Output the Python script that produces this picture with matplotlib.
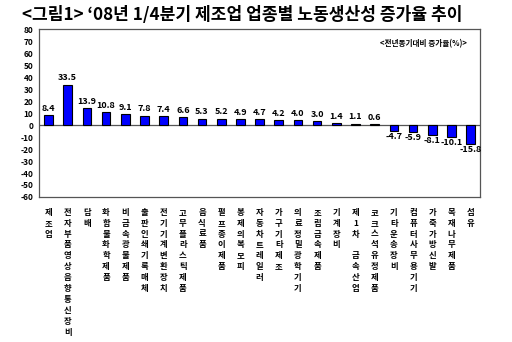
import matplotlib
matplotlib.use("Agg")
import matplotlib.pyplot as plt

plt.rcParams['font.family'] = ['Noto Sans CJK KR', 'DejaVu Sans']
plt.rcParams['axes.unicode_minus'] = False

categories = ['제조업', '전자부품영상음향통신장비', '담배', '화합물화학제품', '비금속광물제품',
              '출판인쇄기록매체', '전기기계변환장치', '고무플라스틱제품', '음식료품', '펄프종이제품',
              '봉제의복모피', '자동차트레일러', '가구기타제조', '의료정밀광학기기', '조립금속제품',
              '기계장비', '제1차 금속산업', '코크스석유정제품', '기타운송장비', '컴퓨터사무용기기',
              '가죽가방신발', '목재나무제품', '섬유']
values = [8.4, 33.5, 13.9, 10.8, 9.1, 7.8, 7.4, 6.6, 5.3, 5.2, 4.9, 4.7, 4.2, 4.0, 3.0,
          1.4, 1.1, 0.6, -4.7, -5.9, -8.1, -10.1, -15.8]
yticks = list(range(-60, 90, 10))

fig = plt.figure(figsize=(5.12, 3.42), dpi=100)
ax = fig.add_axes([0.076, 0.424, 0.862, 0.491])

x = range(len(values))
ax.bar(x, values, width=0.45, color='#0000ff', edgecolor='black', linewidth=0.8, zorder=3)
ax.axhline(0, color='#555555', linewidth=0.9, zorder=2)

for i, v in enumerate(values):
    if v >= 0:
        ax.text(i, v + 2.0, f'{v:.1f}', ha='center', va='bottom', fontsize=6.5, fontweight='bold')
    else:
        ax.text(i, v - 1.0, f'{v:.1f}', ha='center', va='top', fontsize=6.5, fontweight='bold')

for i, name in enumerate(categories):
    ax.text(i, -69, '\n'.join(name), ha='center', va='top', fontsize=6, fontweight='bold',
            linespacing=1.27, clip_on=False)

ax.set_xlim(-0.5, len(values) - 0.5)
ax.set_ylim(-60, 80)
ax.set_yticks(yticks)
ax.set_yticklabels([str(t) for t in yticks], fontsize=6, fontweight='bold')
ax.tick_params(axis='y', length=0, pad=4)
ax.set_xticks([])
for s in ax.spines.values():
    s.set_color('#555555')
    s.set_linewidth(0.9)

ax.text(0.97, 0.91, '<전년동기대비 증가율(%)>', transform=ax.transAxes, ha='right', va='center',
        fontsize=5.5, fontweight='bold')

fig.text(0.043, 0.955, '<그림1> ‘08년 1/4분기 제조업 업종별 노동생산성 증가율 추이',
         ha='left', va='center', fontsize=12.3, fontweight='bold')

fig.savefig('out.png', dpi=100)
